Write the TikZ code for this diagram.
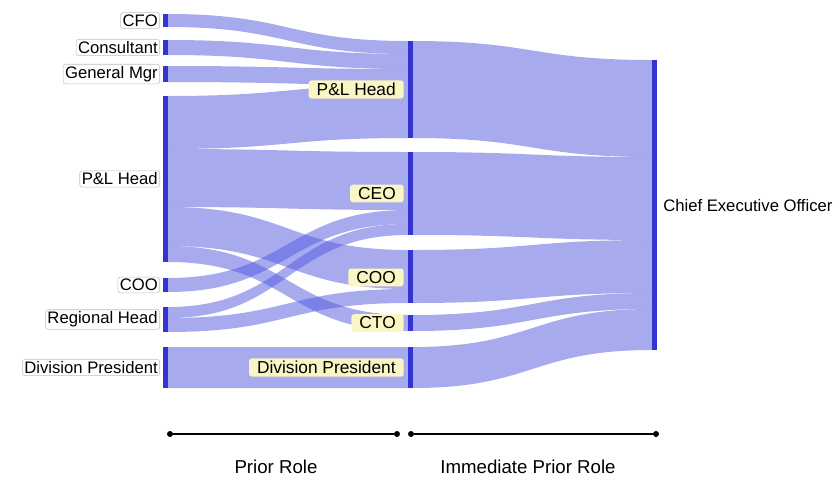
\documentclass[tikz,border=0pt]{standalone}
\usepackage{fontspec}
\setmainfont{Liberation Sans}
\definecolor{flow}{RGB}{80,88,222}
\definecolor{barc}{RGB}{52,52,208}
\definecolor{lblbg}{RGB}{250,246,196}
\newcommand\sankeyband[6]{%
  \fill[flow,fill opacity=0.5] (#1,#2) .. controls ({(#1+#4)/2},#2) and ({(#1+#4)/2},#5) .. (#4,#5)
    -- (#4,#6) .. controls ({(#1+#4)/2},#6) and ({(#1+#4)/2},#3) .. (#1,#3) -- cycle;}
\tikzset{
  leftlbl/.style={fill=white, draw=black!25, rounded corners=2pt, inner sep=1.5pt, anchor=east, font=\fontsize{12.5}{14}\selectfont},
  midlbl/.style={fill=lblbg, rounded corners=2pt, inner ysep=2pt, inner xsep=6pt, anchor=east, font=\fontsize{13}{15}\selectfont},
  rightlbl/.style={fill=white, inner sep=1.5pt, anchor=west, font=\fontsize{12.5}{14}\selectfont},
  axislbl/.style={font=\fontsize{14}{16}\selectfont},
  barfill/.style={fill=barc},
  dot/.style={circle, fill=black, inner sep=0pt, minimum size=4.5pt}
}
\begin{document}
\begin{tikzpicture}[x=0.75pt,y=-0.75pt]
\useasboundingbox (0,0) rectangle (836,479);
% ---- left -> middle bands
\sankeyband{168}{14}{27}{408}{41}{54}
\sankeyband{168}{40}{55}{408}{54}{69}
\sankeyband{168}{66}{82}{408}{69}{85}
\sankeyband{168}{96}{149}{408}{85}{138}
\sankeyband{168}{149}{207}{408}{152}{210}
\sankeyband{168}{207}{246}{408}{250}{289}
\sankeyband{168}{246}{262}{408}{315}{331}
\sankeyband{168}{278}{292}{408}{210}{224}
\sankeyband{168}{307}{318}{408}{224}{235}
\sankeyband{168}{318}{332}{408}{289}{303}
\sankeyband{168}{347}{388}{408}{347}{388}
% ---- middle -> right bands
\sankeyband{413}{41}{138}{652}{60}{157}
\sankeyband{413}{152}{235}{652}{157}{240}
\sankeyband{413}{250}{303}{652}{240}{293}
\sankeyband{413}{315}{331}{652}{293}{309}
\sankeyband{413}{347}{388}{652}{309}{350}
% ---- bars
\fill[barfill] (163,14) rectangle (168,27);
\fill[barfill] (163,40) rectangle (168,55);
\fill[barfill] (163,66) rectangle (168,82);
\fill[barfill] (163,96) rectangle (168,262);
\fill[barfill] (163,278) rectangle (168,292);
\fill[barfill] (163,307) rectangle (168,332);
\fill[barfill] (163,347) rectangle (168,388);
\fill[barfill] (408,41) rectangle (413,138);
\fill[barfill] (408,152) rectangle (413,235);
\fill[barfill] (408,250) rectangle (413,303);
\fill[barfill] (408,315) rectangle (413,331);
\fill[barfill] (408,347) rectangle (413,388);
\fill[barfill] (652,60) rectangle (657,350);
% ---- left labels
\node[leftlbl] (l1) at (160,20.5) {CFO};
\node[leftlbl] (l2) at (160,47.5) {Consultant};
\node[leftlbl] (l3) at (160,74) {General Mgr};
\node[leftlbl] (l4) at (160,179) {P\&L Head};
\node[leftlbl] (l5) at (160,285) {COO};
\node[leftlbl] (l6) at (160,319.5) {Regional Head};
\node[leftlbl] (l7) at (160,367.5) {Division President};
% ---- middle labels
\node[midlbl] (m1) at (404,89.5) {P\&L Head};
\node[midlbl] (m2) at (404,193.5) {CEO};
\node[midlbl] (m3) at (404,277.5) {COO};
\node[midlbl] (m4) at (404,323) {CTO};
\node[midlbl] (m5) at (404,367.5) {Division President};
% ---- right label
\node[rightlbl] (r1) at (661,206) {Chief Executive Officer};
% ---- axes
\node[dot] (a1) at (170,434) {};
\node[dot] (a2) at (397,434) {};
\node[dot] (b1) at (411,434) {};
\node[dot] (b2) at (656,434) {};
\draw[line width=1.2pt] (a1) -- (a2);
\draw[line width=1.2pt] (b1) -- (b2);
\node[axislbl] (t1) at (276,467) {Prior Role};
\node[axislbl] (t2) at (528,467) {Immediate Prior Role};
\end{tikzpicture}
\end{document}
